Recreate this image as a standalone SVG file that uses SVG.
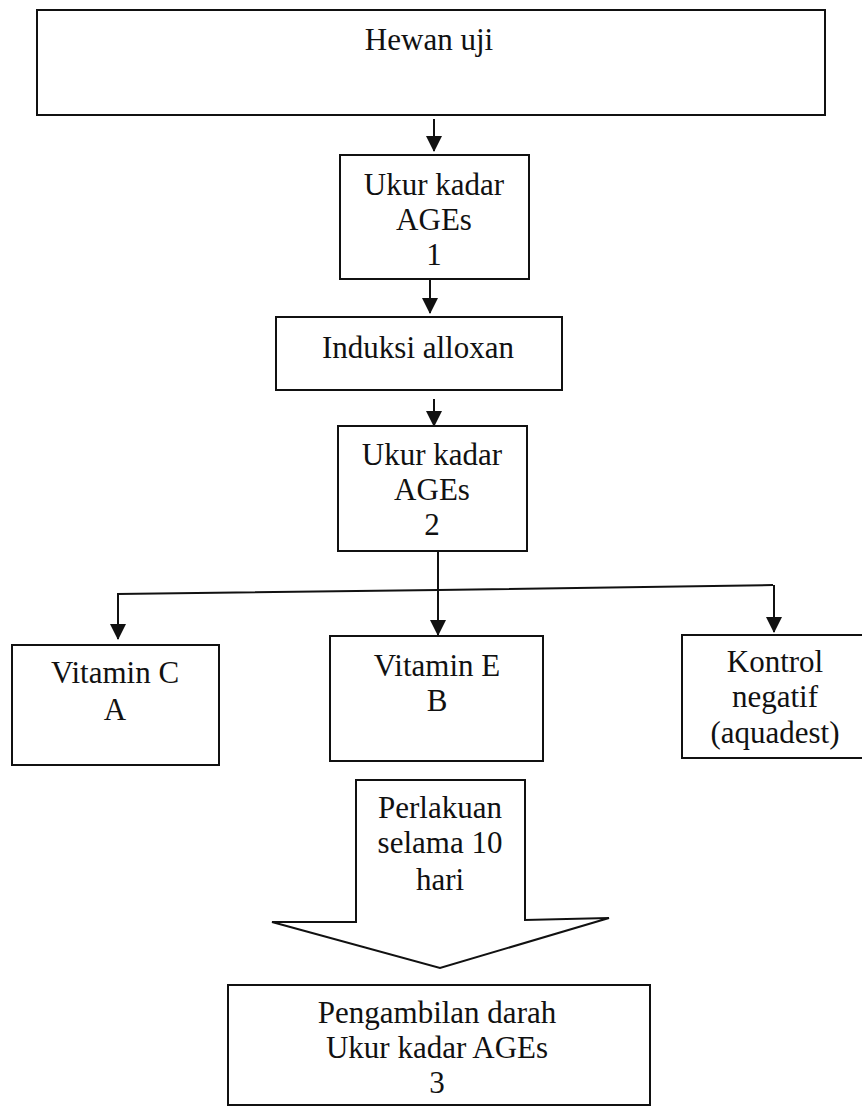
<svg xmlns="http://www.w3.org/2000/svg" width="862" height="1107" viewBox="0 0 862 1107">
<style>
.box{fill:#fff;stroke:#111;stroke-width:2}
.t{font-family:"Liberation Serif","Times New Roman",serif;font-size:31px;fill:#111;text-anchor:middle}
.ln{fill:none;stroke:#111;stroke-width:2}
</style>
<defs>
<marker id="ah" markerUnits="userSpaceOnUse" markerWidth="16" markerHeight="16" viewBox="0 0 16 16" refX="15" refY="8" orient="auto">
<path d="M0,0 L16,8 L0,16 Z" fill="#111"/>
</marker>
</defs>
<rect width="862" height="1107" fill="#fff"/>
<g id="connectors">
<line class="ln" x1="434" y1="119" x2="434" y2="151" marker-end="url(#ah)"/>
<line class="ln" x1="430" y1="280" x2="430" y2="313" marker-end="url(#ah)"/>
<line class="ln" x1="434" y1="399" x2="434" y2="426" marker-end="url(#ah)"/>
<line class="ln" x1="438" y1="551" x2="438" y2="590"/>
<polyline class="ln" points="117,594 438,590 773,585"/>
<line class="ln" x1="118" y1="594" x2="118" y2="639" marker-end="url(#ah)"/>
<line class="ln" x1="438" y1="590" x2="438" y2="635" marker-end="url(#ah)"/>
<line class="ln" x1="774" y1="585" x2="774" y2="632" marker-end="url(#ah)"/>
</g>
<g id="hewan">
<rect class="box" x="37" y="10" width="788" height="105"/>
<text class="t" x="429" y="50">Hewan uji</text>
</g>
<g id="ukur1">
<rect class="box" x="340" y="155" width="189" height="124"/>
<text class="t" x="434" y="195">Ukur kadar</text>
<text class="t" x="434" y="230">AGEs</text>
<text class="t" x="434" y="265">1</text>
</g>
<g id="induksi">
<rect class="box" x="276" y="317" width="286" height="73"/>
<text class="t" x="418" y="358">Induksi alloxan</text>
</g>
<g id="ukur2">
<rect class="box" x="338" y="426" width="189" height="125"/>
<text class="t" x="432" y="465">Ukur kadar</text>
<text class="t" x="432" y="500">AGEs</text>
<text class="t" x="432" y="535">2</text>
</g>
<g id="vitc">
<rect class="box" x="12" y="645" width="207" height="120"/>
<text class="t" x="115" y="683">Vitamin C</text>
<text class="t" x="115" y="720">A</text>
</g>
<g id="vite">
<rect class="box" x="330" y="636" width="213" height="125"/>
<text class="t" x="437" y="676">Vitamin E</text>
<text class="t" x="437" y="711">B</text>
</g>
<g id="kontrol">
<rect class="box" x="682" y="635" width="190" height="123"/>
<text class="t" x="775" y="672">Kontrol</text>
<text class="t" x="775" y="707">negatif</text>
<text class="t" x="775" y="743">(aquadest)</text>
</g>
<g id="perlakuan">
<path class="box" d="M356,780 L525,780 L525,920 L609,918 L440,968 L272,922 L356,922 Z"/>
<text class="t" x="440" y="818">Perlakuan</text>
<text class="t" x="440" y="853">selama 10</text>
<text class="t" x="440" y="890">hari</text>
</g>
<g id="pengambilan">
<rect class="box" x="228" y="985" width="422" height="120"/>
<text class="t" x="437" y="1023">Pengambilan darah</text>
<text class="t" x="437" y="1058">Ukur kadar AGEs</text>
<text class="t" x="437" y="1093">3</text>
</g>
</svg>
